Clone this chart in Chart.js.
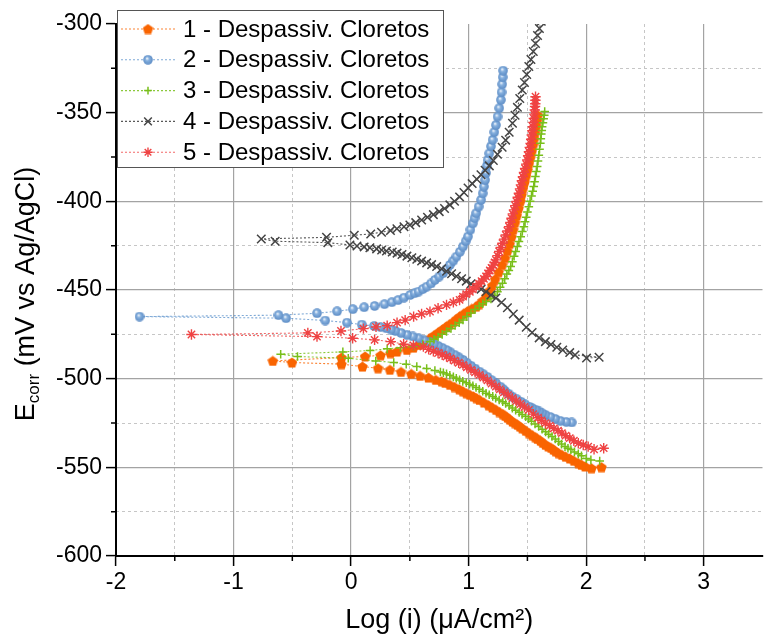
<!DOCTYPE html>
<html>
<head>
<meta charset="utf-8">
<script src="https://cdn.jsdelivr.net/npm/chart.js@4.4.1/dist/chart.umd.min.js"></script>
<style>
html, body { margin: 0; padding: 0; background: #fff; overflow: hidden; }
#wrap { width: 770px; height: 638px; }
</style>
</head>
<body>
<div id="wrap"><canvas id="tafel"></canvas></div>
<script>
// Curvas de polarização - 5 ensaios de despassivação por cloretos
const seriesNames = [
    '1 - Despassiv. Cloretos',
    '2 - Despassiv. Cloretos',
    '3 - Despassiv. Cloretos',
    '4 - Despassiv. Cloretos',
    '5 - Despassiv. Cloretos'
];

const xTicks = [-2, -1, 0, 1, 2, 3];
const xMinorTicks = [-1.5, -0.5, 0.5, 1.5, 2.5];
const yMinorTicks = [-575, -525, -475, -425, -375, -325];

// serie 1 (log i, E)
const logI1 = [2.045, 2.13, 1.99, 1.96, 1.933, 1.895, 1.86, 1.825, 1.793, 1.765, 1.74, 1.72, 1.70, 1.676, 1.653, 1.63, 1.61, 1.585, 1.565, 1.54,
    1.512, 1.485, 1.455, 1.435, 1.415, 1.393, 1.372, 1.35, 1.33, 1.31, 1.29, 1.26, 1.232, 1.2, 1.17, 1.13, 1.092, 1.065, 1.04, 1.01,
    0.98, 0.95, 0.92, 0.88, 0.84, 0.80, 0.77, 0.72, 0.658, 0.587, 0.512, 0.425, 0.33, 0.229, 0.097, -0.082, -0.503, -0.666, -0.082, 0.119,
    0.251, 0.335, 0.391, 0.475, 0.53, 0.58, 0.63, 0.671, 0.705, 0.74, 0.775, 0.812, 0.84, 0.87, 0.895, 0.923, 0.955, 0.99, 1.025, 1.064,
    1.09, 1.12, 1.15, 1.175, 1.2, 1.225, 1.255, 1.285, 1.31, 1.33, 1.35, 1.365, 1.38, 1.395, 1.41, 1.425, 1.44, 1.45, 1.462, 1.475,
    1.488, 1.5, 1.513, 1.525, 1.537, 1.548, 1.557, 1.566, 1.575, 1.583, 1.59];
const e1 = [-550.5, -549.9, -549.5, -548.6, -547.6, -546.3, -545, -544, -543, -542, -541, -540, -539, -538.2, -537.3, -536.2, -535, -534, -533, -531.9,
    -530.7, -529.4, -528, -527, -526, -525.1, -524.2, -523.1, -522, -521, -520, -518.8, -517.6, -516.3, -515, -513.5, -512, -511, -510, -509.1,
    -508.2, -507.1, -506, -504.7, -503.5, -502.4, -501.5, -500.7, -499.4, -498.4, -497.3, -496.2, -495, -494.1, -493.2, -491.8, -490.9, -490, -488.1, -487.5,
    -486.8, -485.6, -484.7, -483.8, -482.5, -481, -479, -477.2, -475.6, -474, -472.3, -470.6, -469.3, -468, -466.5, -465, -463.5, -462, -460.7, -459.4,
    -458, -456, -453.5, -450.5, -447.5, -444, -440, -436, -432, -428, -424, -420, -416, -412, -408, -404, -400, -396.5, -393, -389.5,
    -386, -382.5, -379, -375.5, -372, -368.5, -365, -361.5, -358, -354.5, -351.5];

// serie 2
const logI2 = [1.877, 1.83, 1.78, 1.737, 1.695, 1.653, 1.625, 1.6, 1.57, 1.54, 1.512, 1.48, 1.445, 1.41, 1.372, 1.34, 1.31, 1.29, 1.27, 1.232,
    1.195, 1.16, 1.125, 1.092, 1.055, 1.02, 0.985, 0.952, 0.915, 0.88, 0.845, 0.812, 0.775, 0.74, 0.705, 0.671, 0.62, 0.574, 0.525, 0.475,
    0.425, 0.377, 0.34, 0.30, 0.25, 0.195, 0.091, -0.035, -0.22, -0.553, -1.80, -0.618, -0.29, -0.119, 0.015, 0.111, 0.20, 0.284, 0.346, 0.40,
    0.45, 0.503, 0.54, 0.574, 0.61, 0.643, 0.68, 0.713, 0.75, 0.784, 0.812, 0.84, 0.87, 0.896, 0.925, 0.952, 0.975, 0.994, 1.015, 1.036,
    1.05, 1.064, 1.085, 1.106, 1.12, 1.13, 1.14, 1.148, 1.155, 1.162, 1.175, 1.19, 1.204, 1.218, 1.232, 1.246, 1.26, 1.274, 1.28, 1.285,
    1.29, 1.293];
const e2 = [-524.7, -524.4, -523.8, -522.7, -521.6, -520.4, -519.5, -518.5, -517.5, -516.6, -515.7, -514.4, -513, -511.6, -510.1, -508.5, -507, -505.7, -504.5, -502.5,
    -500.8, -499, -497.5, -496, -494.3, -492.7, -491, -489.4, -487.9, -486.5, -485.1, -483.8, -482.6, -481.5, -480.5, -479.6, -478.4, -477.2, -476.2, -475.3,
    -474.2, -473.1, -472.3, -471.6, -470.9, -470.3, -469.5, -468.4, -467.2, -465.9, -465, -464.2, -463.1, -462, -460.8, -459.7, -459, -458, -456.9, -455.7,
    -454.3, -452.8, -451.8, -450.9, -449.5, -448.1, -446.3, -444.3, -442.4, -440.5, -438.2, -435.9, -433.5, -431.2, -428.5, -425.5, -422.5, -419.9, -416, -412.4,
    -409.5, -406.7, -403, -399.2, -395.5, -391.7, -388, -384, -380, -376.7, -373, -369, -365.4, -361, -357, -352.3, -347.5, -342.8, -338.5, -334,
    -330, -326.3];

// serie 3
const logI3 = [2.115, 2.04, 2.0, 1.96, 1.933, 1.9, 1.87, 1.845, 1.82, 1.79, 1.765, 1.737, 1.709, 1.68, 1.655, 1.625, 1.596, 1.565, 1.535, 1.51,
    1.485, 1.455, 1.43, 1.40, 1.372, 1.345, 1.315, 1.29, 1.26, 1.23, 1.205, 1.175, 1.148, 1.12, 1.09, 1.063, 1.036, 1.008, 0.98, 0.95,
    0.923, 0.895, 0.87, 0.84, 0.812, 0.785, 0.76, 0.713, 0.643, 0.559, 0.469, 0.363, 0.21, -0.024, -0.456, -0.599, -0.07, 0.162, 0.307, 0.42,
    0.532, 0.61, 0.671, 0.705, 0.74, 0.775, 0.812, 0.85, 0.885, 0.92, 0.952, 0.985, 1.02, 1.055, 1.09, 1.12, 1.15, 1.19, 1.22, 1.245,
    1.268, 1.288, 1.307, 1.325, 1.342, 1.358, 1.372, 1.387, 1.40, 1.414, 1.428, 1.443, 1.457, 1.47, 1.48, 1.49, 1.50, 1.512, 1.523, 1.535,
    1.545, 1.554, 1.561, 1.568, 1.576, 1.583, 1.59, 1.597, 1.603, 1.61, 1.614, 1.618, 1.622, 1.625, 1.632, 1.638, 1.643, 1.647];
const e3 = [-546.4, -545.8, -545, -543.5, -542.4, -541.3, -540, -539.2, -538.3, -536.9, -535.5, -534, -532.6, -531.3, -530, -528.5, -527, -525.5, -524, -522.7,
    -521.4, -520.2, -519, -517.8, -516.6, -515.3, -514, -513, -512, -511, -510, -509.1, -508.2, -507.1, -506, -505, -504, -503.1, -502.3, -501.5,
    -500.7, -499.8, -499, -498.1, -497.3, -496.7, -496.2, -495.4, -494.3, -493.2, -491.8, -490.9, -490, -488.5, -487.5, -486.2, -484.9, -484.1, -483.2, -482.5,
    -481.9, -480.5, -479.1, -477.8, -476.5, -475, -473.4, -471.7, -470, -468.4, -466.9, -465, -463, -461, -459, -457.7, -456.5, -455, -453, -451,
    -448.5, -446.2, -443.6, -441, -439, -436.8, -434, -431, -428.3, -425.5, -422.7, -420, -417, -414.3, -411.5, -409, -406, -403, -400, -397,
    -394.3, -391.7, -389, -386, -383.2, -380.4, -377.2, -374, -370.6, -367.3, -364.7, -362, -360, -357.9, -355.7, -353.5, -351.4, -349.4];

// serie 4
const logI4 = [2.003, 2.11, 1.905, 1.86, 1.80, 1.75, 1.70, 1.653, 1.60, 1.54, 1.49, 1.43, 1.38, 1.33, 1.28, 1.232, 1.19, 1.148, 1.106, 1.064,
    1.02, 0.98, 0.94, 0.896, 0.855, 0.812, 0.77, 0.728, 0.685, 0.643, 0.60, 0.559, 0.517, 0.475, 0.433, 0.391, 0.35, 0.301, 0.26, 0.217,
    0.16, 0.111, 0.05, -0.010, -0.198, -0.646, -0.764, -0.209, 0.027, 0.167, 0.259, 0.335, 0.39, 0.45, 0.50, 0.55, 0.60, 0.65, 0.70, 0.75,
    0.795, 0.84, 0.88, 0.923, 0.96, 0.995, 1.03, 1.07, 1.105, 1.14, 1.176, 1.21, 1.245, 1.285, 1.315, 1.345, 1.373, 1.395, 1.415, 1.435,
    1.456, 1.475, 1.494, 1.512, 1.53, 1.55, 1.569, 1.586, 1.602, 1.618, 1.632];
const e4 = [-488.4, -487.9, -486.6, -485.3, -483.8, -482.3, -480.7, -479.1, -477, -474, -471, -467, -463.5, -460, -457, -454.5, -452.8, -451, -449.5, -448.1,
    -446.5, -445, -443.7, -442.2, -440.8, -439.4, -438, -436.8, -435.7, -434.7, -433.7, -432.7, -431.8, -430.9, -430, -429.2, -428.6, -428, -427.4, -426.8,
    -426.2, -425.7, -425.2, -424.6, -423.3, -422.5, -421.2, -420.3, -419.1, -418.4, -417.4, -416.5, -415.5, -414.3, -413.3, -412, -410.5, -409, -407.5, -405.8,
    -404, -402, -400, -397.5, -395, -392.5, -390, -387.5, -385, -382.5, -380, -377, -373.5, -369.5, -365.5, -361, -356, -351.5, -347, -342,
    -337.2, -333, -328.5, -324, -320, -315.5, -311, -306.5, -302.5, -298.5, -295];

// serie 5
const logI5 = [2.067, 2.149, 2.017, 1.975, 1.933, 1.895, 1.86, 1.825, 1.793, 1.76, 1.725, 1.69, 1.653, 1.62, 1.59, 1.55, 1.512, 1.475, 1.44, 1.405,
    1.372, 1.335, 1.30, 1.265, 1.232, 1.195, 1.16, 1.125, 1.092, 1.055, 1.02, 0.985, 0.952, 0.915, 0.88, 0.845, 0.812, 0.775, 0.74, 0.70,
    0.66, 0.615, 0.53, 0.447, 0.338, 0.20, 0.013, -0.29, -1.358, -0.368, -0.086, 0.105, 0.212, 0.307, 0.391, 0.46, 0.532, 0.6, 0.671, 0.74,
    0.812, 0.87, 0.923, 0.952, 0.98, 1.01, 1.035, 1.064, 1.088, 1.11, 1.13, 1.148, 1.165, 1.18, 1.195, 1.21, 1.222, 1.232, 1.246, 1.26,
    1.274, 1.288, 1.302, 1.316, 1.33, 1.344, 1.355, 1.365, 1.376, 1.386, 1.397, 1.407, 1.418, 1.428, 1.437, 1.445, 1.453, 1.462, 1.471, 1.48,
    1.49, 1.499, 1.506, 1.513, 1.52, 1.527, 1.532, 1.537, 1.542, 1.546, 1.551, 1.555, 1.559, 1.563, 1.565, 1.567, 1.568, 1.569];
const e5 = [-539.8, -539.2, -538.3, -537.4, -536.4, -535, -533.5, -532.1, -530.7, -529.3, -528, -526.5, -525.1, -523.5, -522, -520, -517.6, -516, -514.3, -512.6,
    -511, -509.3, -507.7, -506, -504.4, -502.7, -501, -499.4, -497.9, -496.4, -495, -493.6, -492.2, -491, -489.8, -488.6, -487.5, -486.5, -485.5, -484.5,
    -483.5, -481.9, -481.2, -480.6, -479.1, -478.1, -477.2, -476.3, -475.1, -474.2, -473.1, -471.8, -470.8, -470.1, -468.4, -467, -465, -463.5, -462.2, -460.3,
    -458.4, -457, -455.6, -453.7, -452.3, -451, -449.6, -448.1, -446.5, -445, -443.7, -442.4, -440.7, -439, -437.5, -436, -434.5, -433, -430.6, -428.3,
    -426, -423.6, -421.3, -419, -416.7, -414.3, -411.9, -409.5, -407.1, -404.8, -402.4, -400, -397.7, -395.4, -393, -390.7, -388.4, -386.1, -383.7, -381.4,
    -379, -376.7, -374.3, -372, -369.6, -367.3, -365, -362.6, -360.2, -357.9, -355.5, -353.2, -350.8, -348.5, -346.5, -345, -343, -341];

const FONT = '"Liberation Sans", Arial, sans-serif';

function pairs(xs, ys) {
    return xs.map((x, i) => ({ x: x, y: ys[i] }));
}

function pentagonMarker(color, size) {
    const c = document.createElement('canvas');
    c.width = size; c.height = size;
    const g = c.getContext('2d');
    const r = size / 2;
    g.beginPath();
    for (let k = 0; k < 5; k++) {
        const a = -Math.PI / 2 + k * 2 * Math.PI / 5;
        const px = r + r * Math.cos(a);
        const py = r + 0.5 + r * Math.sin(a);
        if (k === 0) g.moveTo(px, py); else g.lineTo(px, py);
    }
    g.closePath();
    g.fillStyle = color;
    g.fill();
    return c;
}

function ballMarker(size) {
    const c = document.createElement('canvas');
    c.width = size; c.height = size;
    const g = c.getContext('2d');
    const r = size / 2;
    const grad = g.createRadialGradient(r * 0.8, r * 0.7, 0.3, r, r, r);
    grad.addColorStop(0, '#eef4fb');
    grad.addColorStop(0.35, '#86b0de');
    grad.addColorStop(1, '#5a8ac4');
    g.beginPath();
    g.arc(r, r, r - 0.2, 0, Math.PI * 2);
    g.fillStyle = grad;
    g.fill();
    return c;
}

const markColors = ['#f96400', '#6a9bd0', '#78bf1a', '#444444', '#ef4343'];
const lineColors = ['rgba(249,100,0,0.8)', 'rgba(106,155,208,0.85)', 'rgba(120,191,26,0.85)', 'rgba(60,60,60,0.85)', 'rgba(239,67,67,0.8)'];
const styles = [pentagonMarker('#f96400', 11), ballMarker(10), 'cross', 'crossRot', 'star'];
const radii = [4.5, 4.5, 4.3, 6, 5.2];
const widths = [1.2, 1.2, 1.5, 1.5, 1.4];
const allX = [logI1, logI2, logI3, logI4, logI5];
const allY = [e1, e2, e3, e4, e5];

const datasets = seriesNames.map((name, i) => ({
    label: name,
    data: pairs(allX[i], allY[i]),
    showLine: true,
    fill: false,
    borderColor: lineColors[i],
    borderWidth: 1.1,
    borderDash: [2, 2],
    pointStyle: styles[i],
    pointRadius: radii[i],
    pointBorderWidth: widths[i],
    pointBorderColor: markColors[i],
    pointBackgroundColor: markColors[i],
    order: 5 - i
}));

// eixos secundarios so para a grade tracejada
const minorGrid = {
    display: true,
    ticks: { display: false },
    grid: { color: '#c6c6c6', lineWidth: 1, drawTicks: false, tickLength: 0 },
    border: { display: false, dash: [3, 3] }
};

const extras = {
    id: 'extras',
    afterDraw(chart) {
        const ctx = chart.ctx;
        const xs = chart.scales.x, ys = chart.scales.y;
        const area = chart.chartArea;
        ctx.save();
        // minor ticks
        ctx.strokeStyle = '#000';
        ctx.lineWidth = 1.5;
        ctx.beginPath();
        xMinorTicks.forEach(v => {
            const px = xs.getPixelForValue(v);
            ctx.moveTo(px, area.bottom);
            ctx.lineTo(px, area.bottom + 5);
        });
        yMinorTicks.forEach(v => {
            const py = ys.getPixelForValue(v);
            ctx.moveTo(area.left, py);
            ctx.lineTo(area.left - 5, py);
        });
        ctx.stroke();

        // y title with subscript
        const big = '27px ' + FONT, small = '17px ' + FONT;
        ctx.font = big;
        const wE = ctx.measureText('E').width;
        const wRest = ctx.measureText(' (mV vs Ag/AgCl)').width;
        ctx.font = small;
        const wSub = ctx.measureText('corr').width;
        const total = wE + wSub + wRest;
        ctx.translate(34, (area.top + area.bottom) / 2 + total / 2 + 4);
        ctx.rotate(-Math.PI / 2);
        ctx.fillStyle = '#000';
        ctx.textBaseline = 'alphabetic';
        ctx.textAlign = 'left';
        ctx.font = big;
        ctx.fillText('E', 0, 0);
        ctx.font = small;
        ctx.fillText('corr', wE, 5);
        ctx.font = big;
        ctx.fillText(' (mV vs Ag/AgCl)', wE + wSub, 0);
        ctx.restore();

        // legend box
        ctx.save();
        const bx = 117, by = 10, bw = 326, bh = 157;
        ctx.fillStyle = '#fff';
        ctx.fillRect(bx, by, bw, bh);
        ctx.strokeStyle = '#555';
        ctx.lineWidth = 1;
        ctx.strokeRect(bx + 0.5, by + 0.5, bw, bh);
        seriesNames.forEach((name, i) => {
            const ry = 29 + i * 30.8;
            ctx.save();
            ctx.strokeStyle = lineColors[i];
            ctx.lineWidth = 1.1;
            ctx.setLineDash([2, 2]);
            ctx.beginPath();
            ctx.moveTo(121, ry);
            ctx.lineTo(176, ry);
            ctx.stroke();
            ctx.restore();
            ctx.fillStyle = markColors[i];
            ctx.strokeStyle = markColors[i];
            ctx.lineWidth = widths[i];
            Chart.helpers.drawPoint(ctx, { pointStyle: styles[i], rotation: 0, radius: radii[i] * 0.9, borderWidth: widths[i] }, 148, ry);
            ctx.fillStyle = '#000';
            ctx.font = '24px ' + FONT;
            ctx.textBaseline = 'middle';
            ctx.textAlign = 'left';
            ctx.fillText(name, 183, ry + 1);
        });
        ctx.restore();
    }
};

new Chart(document.getElementById('tafel'), {
    type: 'scatter',
    data: { datasets: datasets },
    options: {
        responsive: true,
        maintainAspectRatio: false,
        animation: false,
        layout: { padding: { top: 24, left: 0, right: 0, bottom: 0 } },
        plugins: { legend: { display: false }, tooltip: { enabled: false } },
        scales: {
            x: {
                type: 'linear', position: 'bottom', min: -2, max: 3.5,
                afterFit: s => { s.height = 82; },
                afterBuildTicks: s => { s.ticks = xTicks.map(v => ({ value: v })); },
                ticks: { color: '#000', font: { family: FONT, size: 23 }, padding: 3, maxRotation: 0, autoSkip: false },
                grid: {
                    color: c => (c.tick && c.tick.value === -2) ? 'rgba(0,0,0,0)' : '#a3a3a3',
                    lineWidth: 1.2, tickColor: '#000', tickLength: 10, tickWidth: 1.5
                },
                border: { color: '#000', width: 2 },
                title: { display: true, text: 'Log (i) (μA/cm²)', color: '#000', font: { family: FONT, size: 27 }, padding: { top: 0, bottom: 1 } }
            },
            xm: Object.assign({}, minorGrid, {
                type: 'linear', position: 'top', min: -2, max: 3.5,
                afterFit: s => { s.height = 0; },
                afterBuildTicks: s => { s.ticks = xMinorTicks.map(v => ({ value: v })); }
            }),
            y: {
                type: 'linear', position: 'left', min: -600, max: -300,
                afterFit: s => { s.width = 116; },
                ticks: { stepSize: 50, color: '#000', font: { family: FONT, size: 23 }, padding: 4 },
                grid: {
                    color: c => (c.tick && (c.tick.value === -300 || c.tick.value === -600)) ? 'rgba(0,0,0,0)' : '#a3a3a3',
                    lineWidth: 1.2, tickColor: '#000', tickLength: 10, tickWidth: 1.5
                },
                border: { color: '#000', width: 2 }
            },
            ym: Object.assign({}, minorGrid, {
                type: 'linear', position: 'right', min: -600, max: -300,
                afterFit: s => { s.width = 0; },
                afterBuildTicks: s => { s.ticks = yMinorTicks.map(v => ({ value: v })); }
            })
        }
    },
    plugins: [extras]
});
</script>
</body>
</html>
